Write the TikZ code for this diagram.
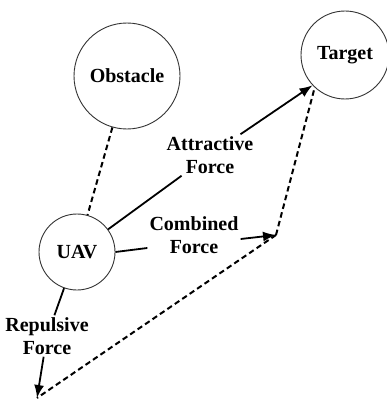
\documentclass[tikz,border=0pt]{standalone}
\usepackage{fontspec}
\setmainfont{Liberation Serif}
\usetikzlibrary{arrows.meta}
\begin{document}
\begin{tikzpicture}[x=1pt,y=-1pt,
  ball/.style={circle,draw=black!80,line width=0.9pt,inner sep=0pt,font=\fontsize{20}{23}\selectfont\bfseries},
  lbl/.style={align=center,inner sep=2pt,font=\fontsize{20}{23}\selectfont\bfseries},
  force/.style={line width=1.8pt},
  forcearrow/.style={line width=1.8pt,-{Latex[length=13pt,width=10pt]}},
  dotline/.style={line width=2pt,dash pattern=on 5.5pt off 3.5pt}]
\useasboundingbox (0,0) rectangle (386,404);
\node[ball,minimum size=106pt] (obs) at (127,76) {Obstacle};
\node[ball,minimum size=88pt] (tgt) at (345,55) {Target};
\node[ball,minimum size=76pt] (uav) at (77,252) {UAV};
\node[lbl] (att) at (210,155) {Attractive\\Force};
\node[lbl] (comb) at (194,235) {Combined\\Force};
\node[lbl] (rep) at (47,336) {Repulsive\\Force};
\coordinate (ctip) at (276,235);
\coordinate (rtip) at (37,398);
\draw[dotline] (obs) -- (uav);
\draw[force] (uav) -- (att);
\draw[forcearrow] (att) -- (tgt.223);
\draw[force] (uav.east) -- (comb.west |- 0,248);
\draw[forcearrow] (comb.east |- 0,239) -- (ctip);
\draw[force] (uav) -- (rep);
\draw[forcearrow] (rep) -- (rtip);
\draw[dotline] (ctip) -- (tgt.227);
\draw[dotline] (ctip) -- (rtip);
\end{tikzpicture}
\end{document}
